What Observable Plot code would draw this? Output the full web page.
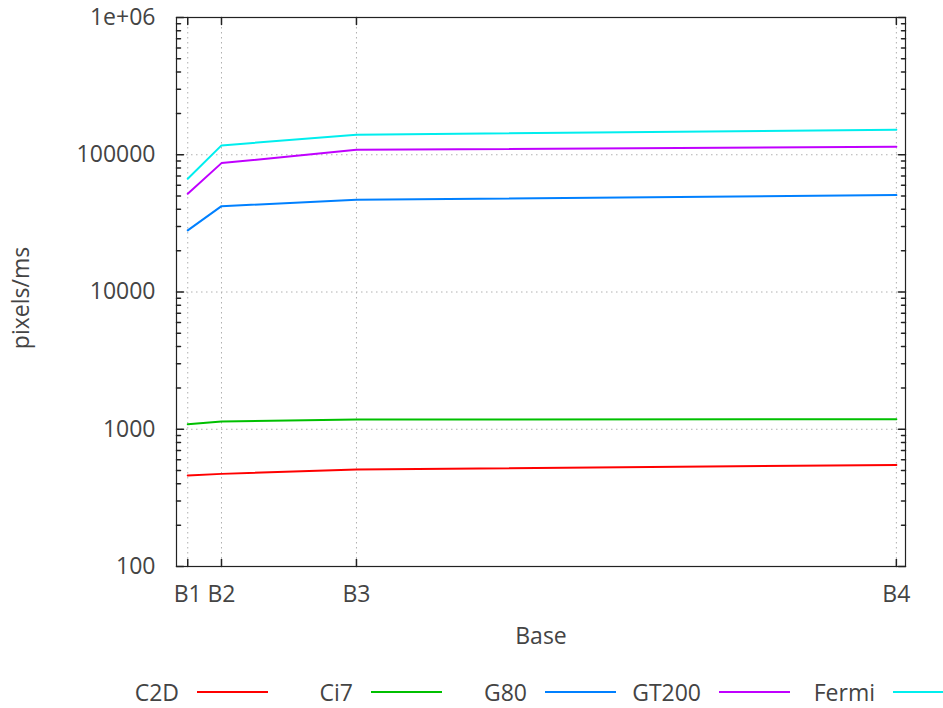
<!DOCTYPE html>
<html>
<head>
<meta charset="utf-8">
<script src="https://cdn.jsdelivr.net/npm/d3@7"></script>
<script src="https://cdn.jsdelivr.net/npm/@observablehq/plot@0.6"></script>
<style>
  body { margin: 0; background: #fff; font-family: "Open Sans", sans-serif; }
  #chart svg { display: block; }
  #legend { display: flex; height: 43px; padding: 11px 0 0 94px; box-sizing: border-box; }
  #legend .item { display: flex; align-items: center; width: 174px; height: 32px; }
  #legend .item span { width: 85px; text-align: right; font-size: 23px; color: #444; margin-right: 18px; }
  #legend .item i { display: block; width: 71px; height: 2.5px; }
</style>
</head>
<body>
<div id="chart"></div>
<div id="legend"></div>
<script>
// Throughput (pixels/ms) per device for each base size
const bases = ["B1", "B2", "B3", "B4"];
const baseX = [16, 64, 256, 1024];

const c2d   = [460, 473, 508, 550];
const ci7   = [1087, 1138, 1177, 1182];
const g80   = [28100, 42200, 47000, 50800];
const gt200 = [52000, 86900, 108700, 114400];
const fermi = [66800, 117000, 140000, 152000];

const seriesNames  = ["C2D", "Ci7", "G80", "GT200", "Fermi"];
const seriesColors = ["#ff0000", "#00c000", "#0080ff", "#c000ff", "#00eeee"];

const yTicks      = [100, 1000, 10000, 100000, 1000000];
const yTickLabels = ["100", "1000", "10000", "100000", "1e+06"];

// long-format table for the line mark
const seriesData = [c2d, ci7, g80, gt200, fermi];
const rows = seriesNames.flatMap((name, s) =>
  baseX.map((x, i) => ({series: name, x, y: seriesData[s][i]}))
);

// minor log ticks 2..9 within each decade
const minorTicks = yTicks.slice(0, -1).flatMap(d => d3.range(2, 10).map(k => d * k));

// a plain line segment for inward tick marks
const tickShape = {draw(ctx, l) { ctx.moveTo(0, 0); ctx.lineTo(0, -l); }};
const frameColor = "#222";
const textColor = "#444";
const gridStyle = {stroke: "#b0b0b0", strokeWidth: 1, strokeDasharray: "1.5,3.5"};

const chart = Plot.plot({
  width: 943,
  height: 665,
  marginLeft: 176,
  marginRight: 38,
  marginTop: 17,
  marginBottom: 99,
  style: {fontFamily: "Open Sans", fontSize: "23px", color: textColor, background: "#fff"},
  x: {type: "linear", domain: [0, 1037], axis: null},
  y: {type: "log", domain: [100, 1000000], axis: null},
  color: {domain: seriesNames, range: seriesColors},
  marks: [
    Plot.ruleY(yTicks.slice(1, -1), gridStyle),
    Plot.ruleX(baseX, gridStyle),
    Plot.line(rows, {x: "x", y: "y", z: "series", stroke: "series", strokeWidth: 2}),
    Plot.frame({stroke: frameColor, strokeWidth: 1.2}),
    // inward ticks on all four sides
    Plot.vector(yTicks, {y: d => d, frameAnchor: "left", rotate: 90, anchor: "start", length: 7, shape: tickShape, stroke: frameColor}),
    Plot.vector(minorTicks, {y: d => d, frameAnchor: "left", rotate: 90, anchor: "start", length: 4, shape: tickShape, stroke: frameColor}),
    Plot.vector(yTicks, {y: d => d, frameAnchor: "right", rotate: -90, anchor: "start", length: 7, shape: tickShape, stroke: frameColor}),
    Plot.vector(minorTicks, {y: d => d, frameAnchor: "right", rotate: -90, anchor: "start", length: 4, shape: tickShape, stroke: frameColor}),
    Plot.vector(baseX, {x: d => d, frameAnchor: "bottom", rotate: 0, anchor: "start", length: 7, shape: tickShape, stroke: frameColor}),
    Plot.vector(baseX, {x: d => d, frameAnchor: "top", rotate: 180, anchor: "start", length: 7, shape: tickShape, stroke: frameColor}),
    // tick labels
    Plot.axisY({anchor: "left", ticks: yTicks, tickSize: 0, tickPadding: 21, fontSize: 23,
      tickFormat: d => yTickLabels[yTicks.indexOf(d)], label: null}),
    Plot.axisX({anchor: "bottom", ticks: baseX, tickSize: 0, tickPadding: 19, fontSize: 23,
      tickFormat: d => bases[baseX.indexOf(d)], label: null}),
    // axis titles
    Plot.text(["Base"], {frameAnchor: "bottom", textAnchor: "middle", lineAnchor: "top", dy: 61, fontSize: 23, fill: textColor}),
    Plot.text(["pixels/ms"], {frameAnchor: "left", textAnchor: "middle", rotate: -90, lineAnchor: "bottom", dx: -148, dy: 6, fontSize: 23, fill: textColor})
  ]
});
document.getElementById("chart").appendChild(chart);

// key below the plot
const legend = document.getElementById("legend");
seriesNames.forEach((name, i) => {
  const item = document.createElement("div");
  item.className = "item";
  const label = document.createElement("span");
  label.textContent = name;
  const swatch = document.createElement("i");
  swatch.style.background = seriesColors[i];
  item.append(label, swatch);
  legend.appendChild(item);
});
</script>
</body>
</html>
